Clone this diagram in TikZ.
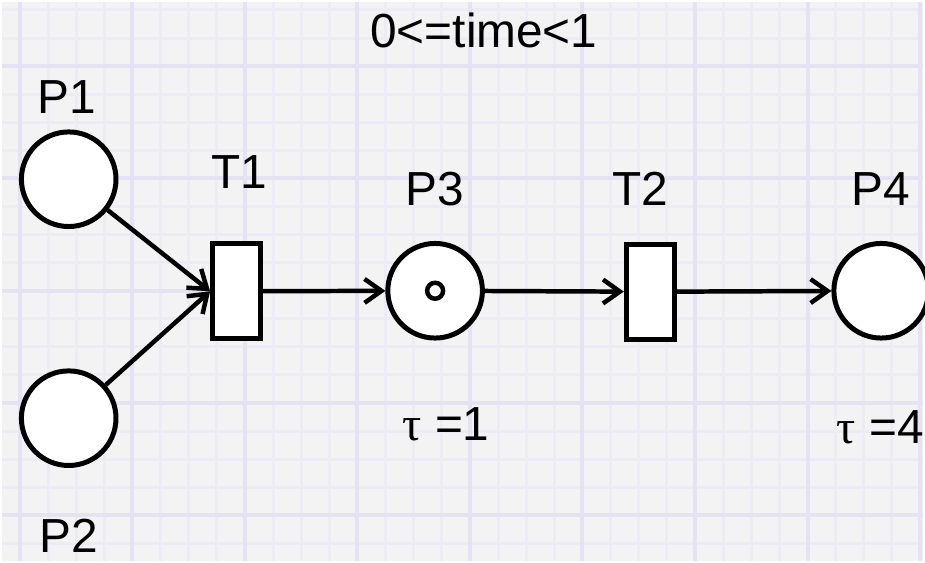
\documentclass[tikz,border=0pt]{standalone}
\usepackage{fontspec}
\setmainfont{Liberation Sans}
\newfontfamily\symfont{Liberation Serif}
\usetikzlibrary{arrows.meta, positioning}
\definecolor{paper}{RGB}{243,243,244}
\definecolor{gridminor}{RGB}{236,235,246}
\definecolor{gridmajor}{RGB}{229,226,244}
\tikzset{
  place/.style={circle, draw=black, fill=white, line width=5pt,
    minimum size=95pt, inner sep=0pt},
  trans/.style={rectangle, draw=black, fill=white, line width=5pt,
    minimum width=48pt, minimum height=95pt, inner sep=0pt},
  token/.style={circle, draw=black, fill=white, line width=4.5pt,
    minimum size=16pt, inner sep=0pt},
  lbl/.style={inner sep=0pt, font=\fontsize{48}{56}\selectfont},
  arc/.style={-{Straight Barb[length=17pt, width=24pt]}, line width=4.5pt},
}

\begin{document}
\begin{tikzpicture}[x=1pt, y=-1pt, node distance=20pt]
  % graph paper background
  \fill[paper] (0,0) rectangle (925,561);
  \foreach \k in {0,...,32}
    \draw[gridminor, line width=3pt] (18+28.25*\k,0) -- (18+28.25*\k,561);
  \foreach \k in {0,...,19}
    \draw[gridminor, line width=3pt] (0,8+28.2*\k) -- (925,8+28.2*\k);
  \foreach \k in {0,4,...,32}
    \draw[gridmajor, line width=4pt] (18+28.25*\k,0) -- (18+28.25*\k,561);
  \foreach \k in {2,6,...,18}
    \draw[gridmajor, line width=4pt] (0,8+28.2*\k) -- (925,8+28.2*\k);
  \useasboundingbox (0,0) rectangle (925,561);

  % places and transitions
  \node[place] (p1) at (67,178) {};
  \node[place] (p2) at (67,418) {};
  \node[trans] (t1) at (235.5,290.5) {};
  \node[place] (p3) at (435,290) {};
  \node[trans] (t2) at (651,291) {};
  \node[place] (p4) at (883,290) {};
  \node[token] (tok) at (p3.center) {};

  % labels
  \node[lbl, above=16pt of p1, xshift=-2pt] (lp1) {P1};
  \node[lbl, below=51pt of p2] (lp2) {P2};
  \node[lbl, above=53pt of t1, xshift=3pt] (lt1) {T1};
  \node[lbl, above=35pt of p3] (lp3) {P3};
  \node[lbl, above=36pt of t2, xshift=-10pt] (lt2) {T2};
  \node[lbl, above=35pt of p4] (lp4) {P4};
  \node[lbl, below=67pt of p3, xshift=11pt] (tau3) {{\symfont τ} =1};
  \node[lbl, below=70pt of p4, xshift=-1pt] (tau4) {{\symfont τ} =4};
  \node[lbl] (time) at (484,29) {0<=time<1};

  % arcs
  \draw[arc] (p1) -- (t1.west);
  \draw[arc] (p2) -- (t1.west);
  \draw[arc] (t1) -- (p3);
  \draw[arc] (p3) -- (t2);
  \draw[arc] (t2) -- (p4);
\end{tikzpicture}
\end{document}
